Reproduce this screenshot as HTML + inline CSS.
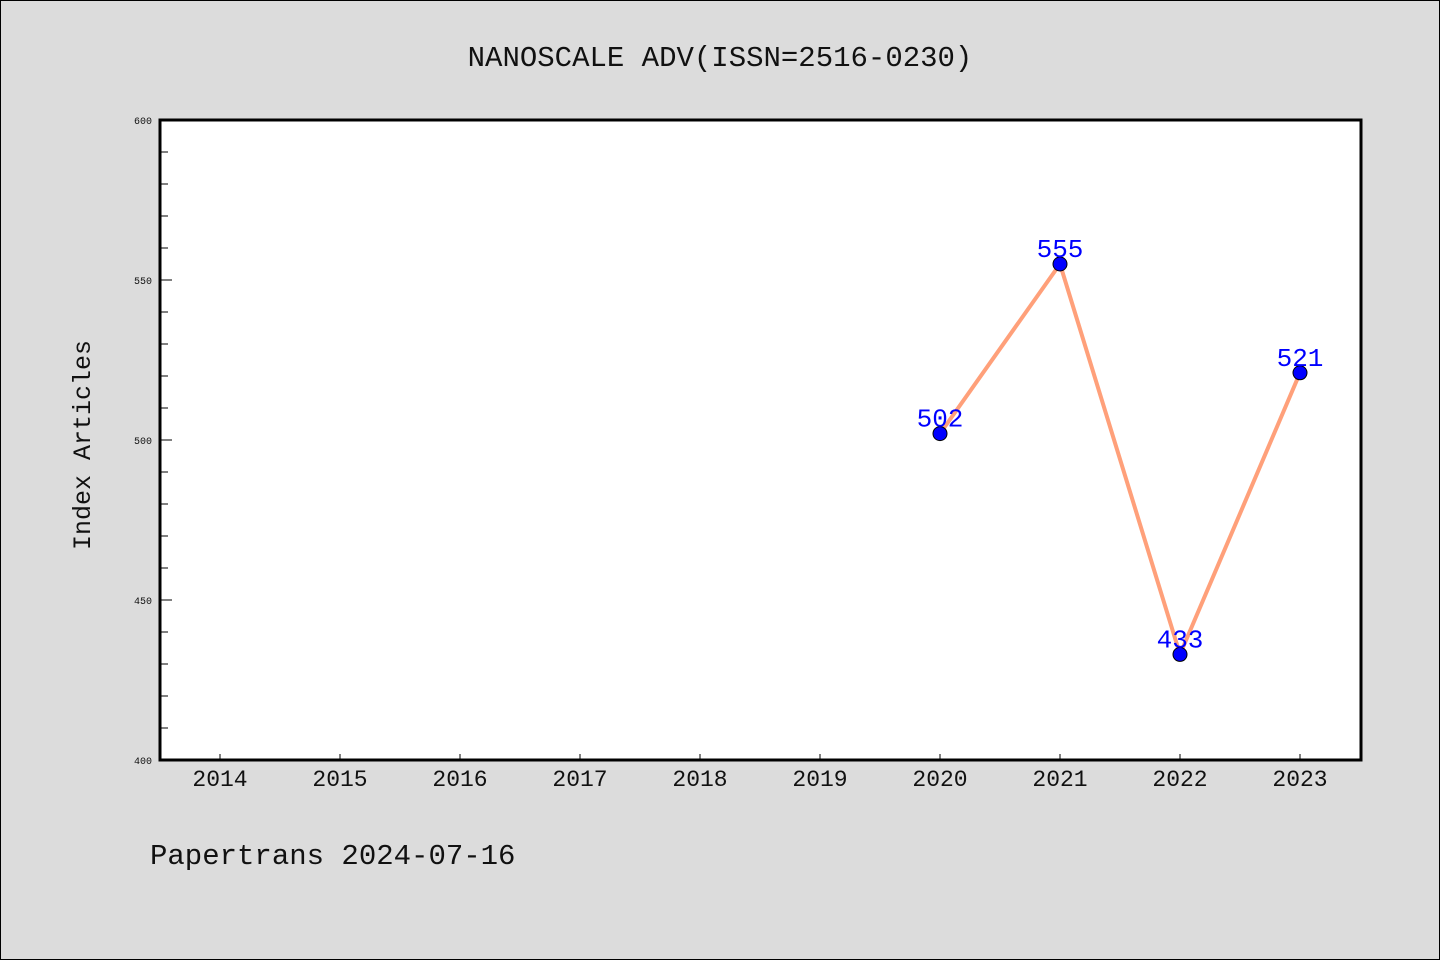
<!DOCTYPE html>
<html><head><meta charset="utf-8"><style>
html,body{margin:0;padding:0;background:#dcdcdc;}
svg{display:block;}
text{font-family:"Liberation Mono","DejaVu Sans Mono",monospace;}
</style></head><body>
<svg id="chart" width="1440" height="960" viewBox="0 0 1440 960" xmlns="http://www.w3.org/2000/svg">
<rect x="0.5" y="0.5" width="1439" height="959" fill="#dcdcdc" stroke="#000" stroke-width="1"/>
<text x="720" y="66" text-anchor="middle" font-size="29" fill="#111">NANOSCALE ADV(ISSN=2516-0230)</text>
<rect x="160" y="120" width="1201" height="640" fill="#fff"/>
<g id="axes"></g>
<g id="marks"></g>
<rect x="160" y="120" width="1201" height="640" fill="none" stroke="#000" stroke-width="3"/>
<text transform="translate(90,445) rotate(-90)" text-anchor="middle" font-size="25" fill="#111">Index Articles</text>
<text x="150" y="864" font-size="29" fill="#111">Papertrans 2024-07-16</text>
</svg>
<script>
const years = [2020, 2021, 2022, 2023];
const values = [502, 555, 433, 521];
const xTicks = [2014, 2015, 2016, 2017, 2018, 2019, 2020, 2021, 2022, 2023];
const yTicks = [400, 450, 500, 550, 600];

const NS = "http://www.w3.org/2000/svg";
const X0 = 160, X1 = 1360, Y0 = 760, Y1 = 120;
function xs(v){ return X0 + (v - 2013.5) / 10 * (X1 - X0); }
function ys(v){ return Y0 - (v - 400) / 200 * (Y0 - Y1); }
function mk(tag, attrs, parent){ const e = document.createElementNS(NS, tag); for (const k in attrs) e.setAttribute(k, attrs[k]); parent.appendChild(e); return e; }
const axes = document.getElementById('axes');
const marks = document.getElementById('marks');

for (let v = 410; v < 600; v += 10) {
  if (v % 50 === 0) continue;
  const t = mk('line', {x1: X0, x2: X0 + 8, y1: ys(v), y2: ys(v), stroke: '#000', 'stroke-width': 1}, axes);
  
  
}
yTicks.forEach(v => {
  const t = mk('line', {x1: X0, x2: X0 + 12, y1: ys(v), y2: ys(v), stroke: '#000', 'stroke-width': 1}, axes);
  
  
  const l = mk('text', {x: 152, y: ys(v) + 4, 'text-anchor': 'end', 'font-size': 10, fill: '#111'}, axes);
  l.textContent = v;
  
  
});
xTicks.forEach(v => {
  const t = mk('line', {x1: xs(v), x2: xs(v), y1: Y0, y2: Y0 - 6, stroke: '#000', 'stroke-width': 1}, axes);
  
  
  const l = mk('text', {x: xs(v), y: 786, 'text-anchor': 'middle', 'font-size': 23, fill: '#111', 'font-family': '"Liberation Sans",sans-serif'}, axes);
  l.textContent = v;
  
  
});
const pts = years.map((y, i) => xs(y) + ',' + ys(values[i])).join(' ');
const line = mk('polyline', {points: pts, fill: 'none', stroke: '#ffa07a', 'stroke-width': 4, 'stroke-linejoin': 'round'}, marks);


years.forEach((y, i) => {
  const c = mk('circle', {cx: xs(y), cy: ys(values[i]), r: 7, fill: '#0000ff', stroke: '#000', 'stroke-width': 1}, marks);
  
  
  const t = mk('text', {x: xs(y), y: ys(values[i]) - 7, 'text-anchor': 'middle', 'font-size': 26, fill: '#0000ff', 'font-family': '"Liberation Sans",sans-serif'}, marks);
  t.textContent = values[i];
  
  
});
</script>
</body></html>
